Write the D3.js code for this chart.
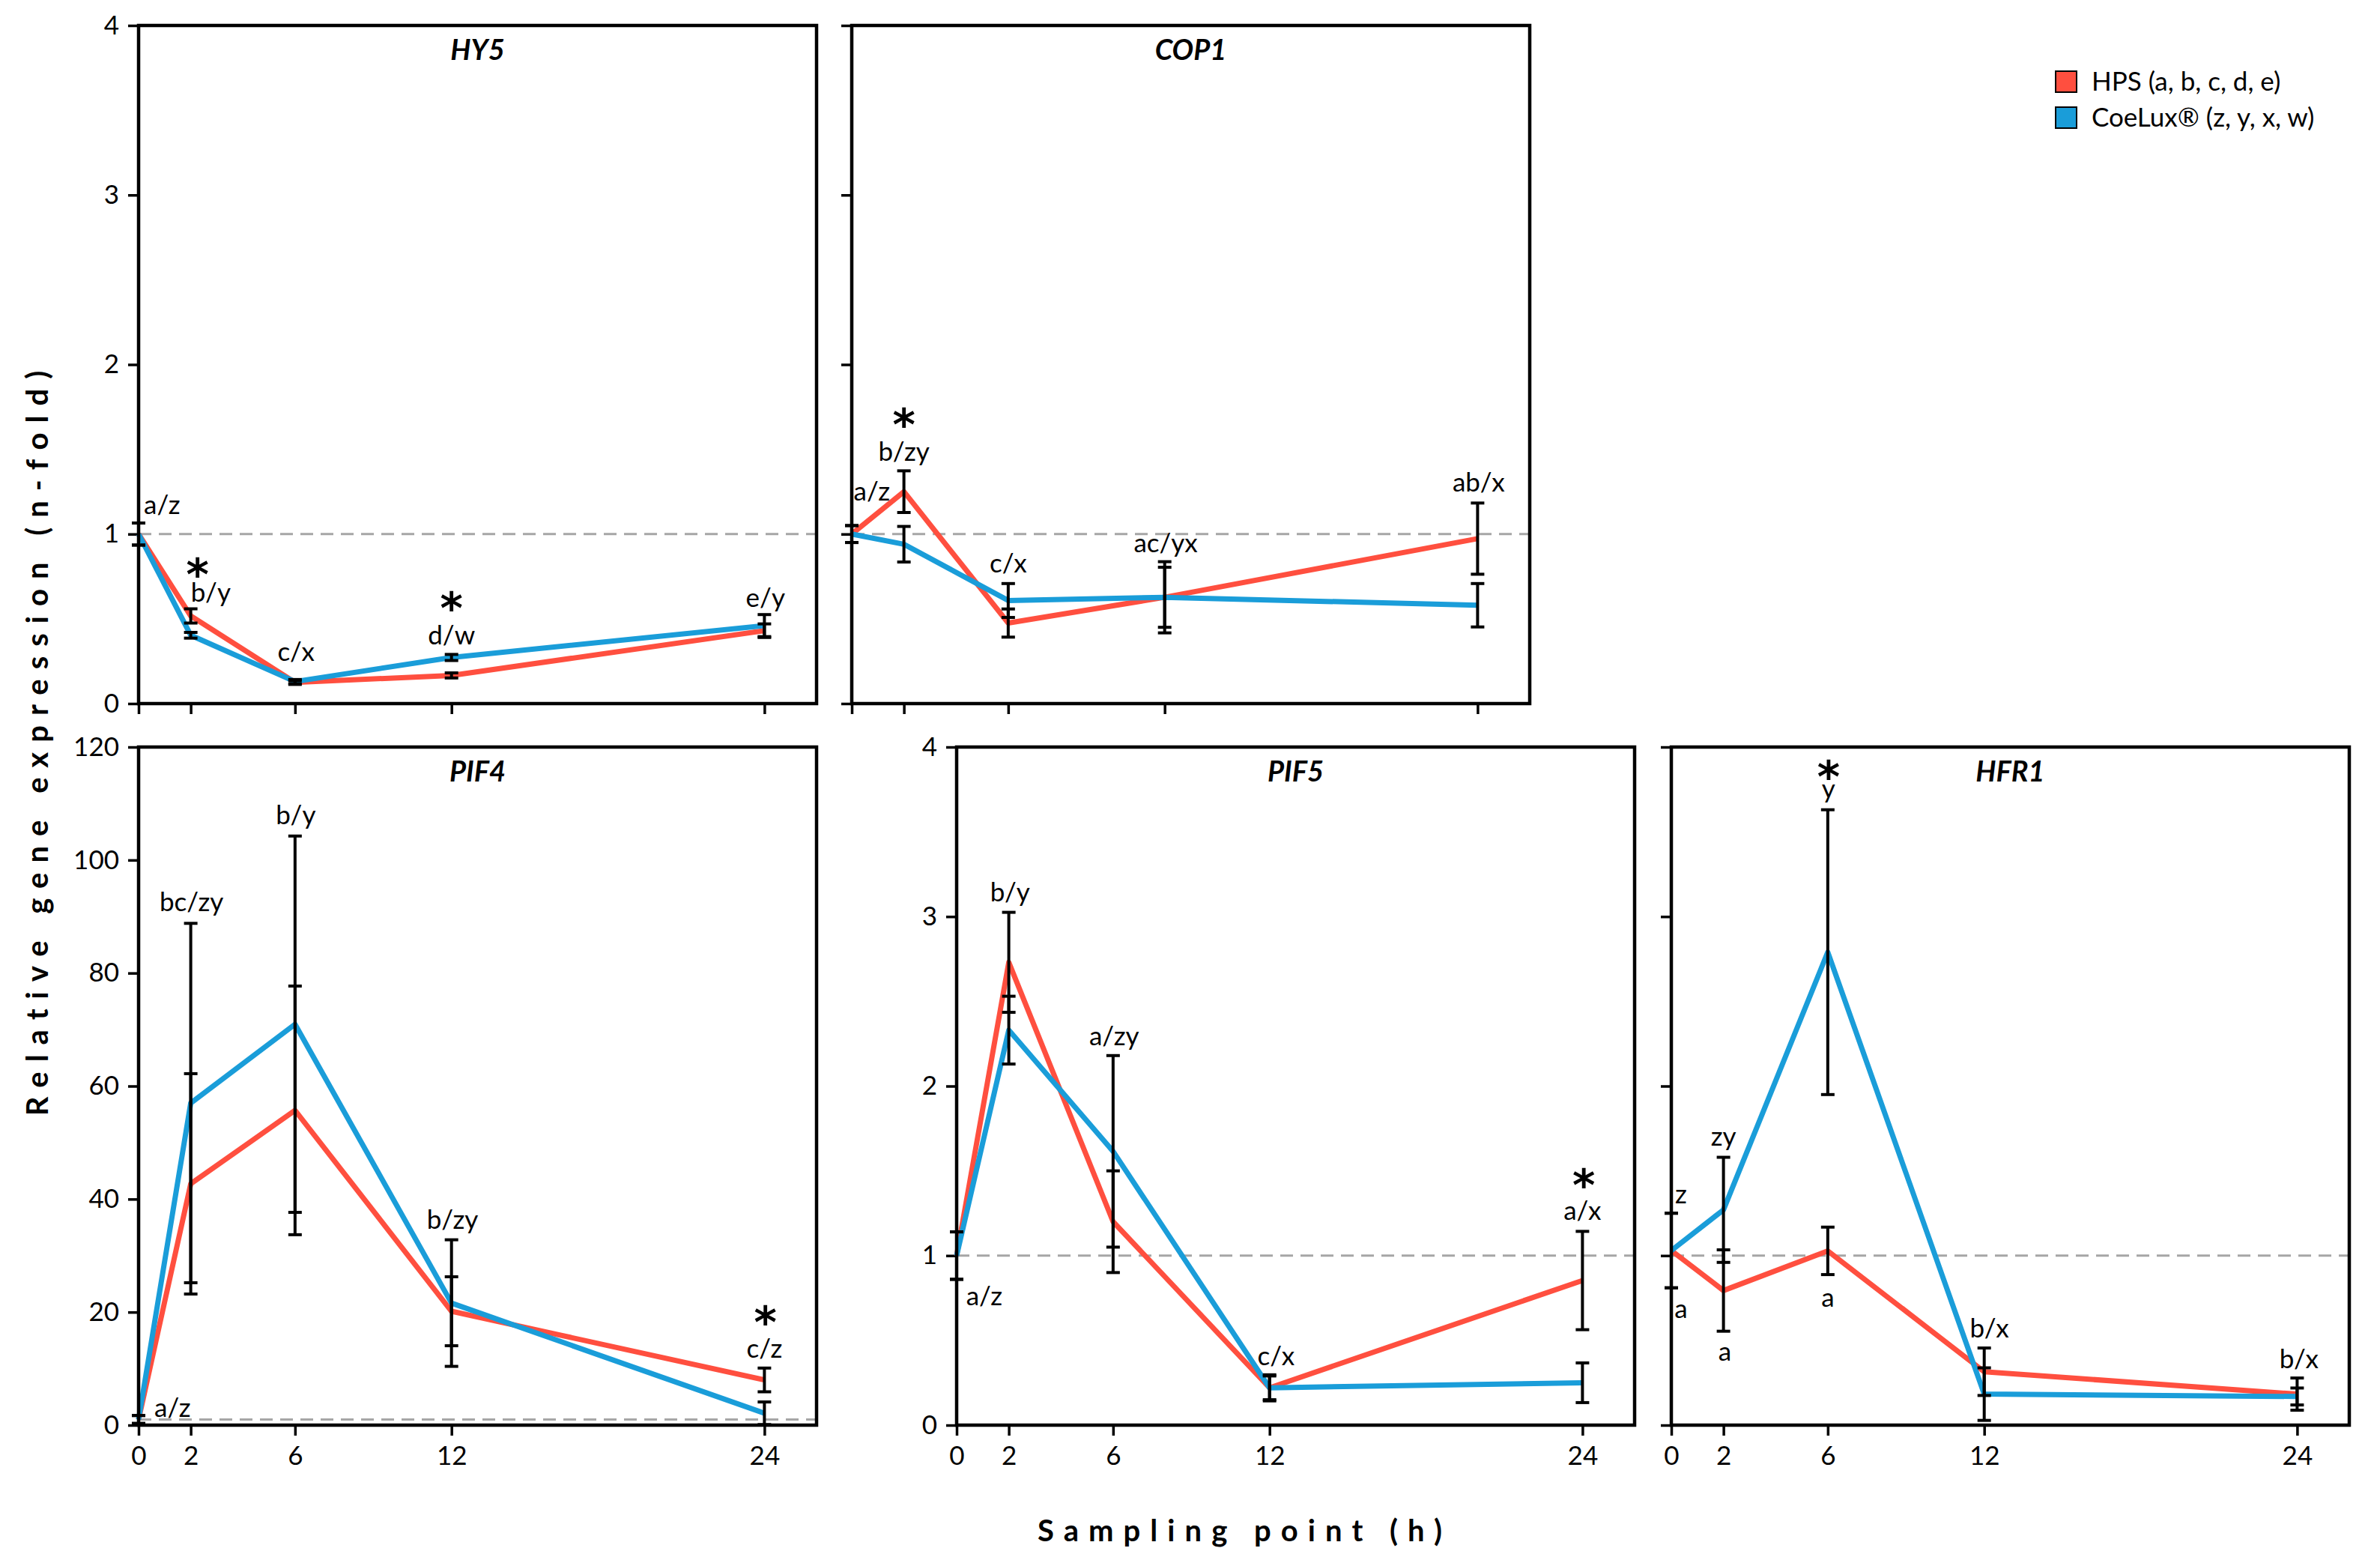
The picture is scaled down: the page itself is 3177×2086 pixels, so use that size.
<!DOCTYPE html>
<html><head><meta charset="utf-8">
<script src="https://cdn.jsdelivr.net/npm/d3@7"></script>
<style>
html,body{margin:0;padding:0;background:#fff;}
svg{display:block;}
text{font-family:Lato,"Open Sans",sans-serif;fill:#000;}
</style></head>
<body>
<svg id="chart" width="3177" height="2086"></svg>
<script>
// ---------- DATA ----------
const times = [0, 2, 6, 12, 24];
const genes = ["HY5", "COP1", "PIF4", "PIF5", "HFR1"];
const seriesNames = ["HPS (a, b, c, d, e)", "CoeLux\u00AE (z, y, x, w)"];
const yTicks4 = [0, 1, 2, 3, 4];
const yTicks120 = [0, 20, 40, 60, 80, 100, 120];

const hpsHY5 = [1, 0.517, 0.125, 0.166, 0.43];
const hpsHY5Err = [0.065, 0.042, 0.012, 0.015, 0.04];
const coeHY5 = [1, 0.403, 0.13, 0.272, 0.46];
const coeHY5Err = [0.065, 0.017, 0.012, 0.018, 0.065];

const hpsCOP1 = [1, 1.25, 0.475, 0.627, 0.973];
const hpsCOP1Err = [0.05, 0.123, 0.083, 0.21, 0.21];
const coeCOP1 = [1, 0.94, 0.608, 0.627, 0.58];
const coeCOP1Err = [0.05, 0.105, 0.1, 0.177, 0.128];

const hpsPIF4 = [1, 42.7, 55.7, 20.15, 8.0];
const hpsPIF4Err = [0.7, 19.5, 22, 6.1, 2.1];
const coePIF4 = [1, 57.0, 70.95, 21.6, 2.1];
const coePIF4Err = [0.7, 31.8, 33.3, 11.2, 2.0];

const hpsPIF5 = [1, 2.73, 1.2, 0.22, 0.853];
const hpsPIF5Err = [0.14, 0.295, 0.3, 0.07, 0.29];
const coePIF5 = [1, 2.33, 1.615, 0.22, 0.25];
const coePIF5Err = [0.14, 0.2, 0.565, 0.077, 0.117];

const hpsHFR1 = [1.03, 0.794, 1.028, 0.315, 0.183];
const hpsHFR1Err = [0.22, 0.24, 0.14, 0.14, 0.095];
const coeHFR1 = [1.03, 1.27, 2.79, 0.183, 0.169];
const coeHFR1Err = [0.22, 0.31, 0.84, 0.155, 0.05];

// annotations: [time, value, text]
const notesHY5 = [[0.9,1.12,"a/z"],[2.26,0.82,"*"],[2.77,0.60,"b/y"],[6.04,0.254,"c/x"],[12.0,0.62,"*"],[12.0,0.35,"d/w"],[24.04,0.57,"e/y"]];
const notesCOP1 = [[0.77,1.2,"a/z"],[2.0,1.70,"*"],[2.0,1.43,"b/zy"],[6.0,0.774,"c/x"],[12.04,0.895,"ac/yx"],[24.04,1.25,"ab/x"]];
const notesPIF4 = [[1.3,1.4,"a/z"],[2.03,91,"bc/zy"],[6.03,106.3,"b/y"],[12.04,34.7,"b/zy"],[24.04,19.9,"*"],[24.0,12,"c/z"]];
const notesPIF5 = [[1.06,0.705,"a/z"],[2.05,3.09,"b/y"],[6.04,2.24,"a/zy"],[12.25,0.352,"c/x"],[24.05,1.474,"*"],[24.0,1.212,"a/x"]];
const notesHFR1 = [[0.37,1.31,"z"],[0.37,0.63,"a"],[2.0,1.65,"zy"],[2.05,0.38,"a"],[6.03,3.88,"*"],[6.03,3.70,"y"],[6.0,0.70,"a"],[12.2,0.515,"b/x"],[24.07,0.338,"b/x"]];

// ---------- LAYOUT ----------
const colors = ["#FF4F3F", "#1A9DD9"];
const panels = [
  {gene:"HY5",  x:185,  y:34,  w:905, h:905, ymax:4,   ticks:yTicks4,   ylab:true,  xlab:false, hps:hpsHY5, hpsE:hpsHY5Err, coe:coeHY5, coeE:coeHY5Err, notes:notesHY5},
  {gene:"COP1", x:1137, y:34,  w:905, h:905, ymax:4,   ticks:yTicks4,   ylab:false, xlab:false, hps:hpsCOP1, hpsE:hpsCOP1Err, coe:coeCOP1, coeE:coeCOP1Err, notes:notesCOP1},
  {gene:"PIF4", x:185,  y:997, w:905, h:905, ymax:120, ticks:yTicks120, ylab:true,  xlab:true,  hps:hpsPIF4, hpsE:hpsPIF4Err, coe:coePIF4, coeE:coePIF4Err, notes:notesPIF4},
  {gene:"PIF5", x:1277, y:997, w:905, h:905, ymax:4,   ticks:yTicks4,   ylab:true,  xlab:true,  hps:hpsPIF5, hpsE:hpsPIF5Err, coe:coePIF5, coeE:coePIF5Err, notes:notesPIF5},
  {gene:"HFR1", x:2231, y:997, w:905, h:905, ymax:4,   ticks:yTicks4,   ylab:false, xlab:true,  hps:hpsHFR1, hpsE:hpsHFR1Err, coe:coeHFR1, coeE:coeHFR1Err, notes:notesHFR1}
];

const svg = d3.select("#chart");
const FS = 35;

panels.forEach(p => {
  const g = svg.append("g").attr("transform", `translate(${p.x},${p.y})`);
  const x = d3.scaleLinear().domain([0, 26]).range([0, p.w]);
  const y = d3.scaleLinear().domain([0, p.ymax]).range([p.h, 0]);

  // axes
  const yAxis = d3.axisLeft(y).tickValues(p.ticks).tickSize(14).tickPadding(12)
    .tickFormat(p.ylab ? d3.format("d") : () => "");
  const ya = g.append("g").call(yAxis);
  const xAxis = d3.axisBottom(x).tickValues(times).tickSize(14).tickPadding(14)
    .tickFormat(p.xlab ? d3.format("d") : () => "");
  const xa = g.append("g").attr("transform", `translate(0,${p.h})`).call(xAxis);
  [ya, xa].forEach(a => {
    a.select(".domain").remove();
    a.selectAll(".tick line").attr("stroke", "#000").attr("stroke-width", 3.5);
    a.selectAll(".tick text").attr("font-size", FS).attr("fill", "#000")
      .style("font-family", "Lato");
  });

  // reference dashed line at 1
  g.append("line").attr("x1", 0).attr("x2", p.w).attr("y1", y(1)).attr("y2", y(1))
    .attr("stroke", "#A6A6A6").attr("stroke-width", 3).attr("stroke-dasharray", "17,10");

  // series lines
  const line = d3.line().x((d, i) => x(times[i])).y(d => y(d));
  [p.hps, p.coe].forEach((vals, si) => {
    g.append("path").datum(vals).attr("d", line).attr("fill", "none")
      .attr("stroke", colors[si]).attr("stroke-width", 7).attr("stroke-linejoin", "round");
  });

  // error bars
  const cap = 9;
  [[p.hps, p.hpsE], [p.coe, p.coeE]].forEach(([vals, errs]) => {
    vals.forEach((v, i) => {
      const e = errs[i];
      if (!e) return;
      const cx = x(times[i]);
      const eg = g.append("g").attr("stroke", "#000").attr("stroke-width", 4);
      eg.append("line").attr("x1", cx).attr("x2", cx).attr("y1", y(v + e)).attr("y2", y(v - e));
      eg.append("line").attr("x1", cx - cap).attr("x2", cx + cap).attr("y1", y(v + e)).attr("y2", y(v + e));
      eg.append("line").attr("x1", cx - cap).attr("x2", cx + cap).attr("y1", y(v - e)).attr("y2", y(v - e));
    });
  });

  // frame
  g.append("rect").attr("x", 0).attr("y", 0).attr("width", p.w).attr("height", p.h)
    .attr("fill", "none").attr("stroke", "#000").attr("stroke-width", 4.5);

  // title
  g.append("text").attr("x", p.w / 2).attr("y", 46).attr("text-anchor", "middle")
    .attr("font-size", 38).attr("font-weight", 700).attr("font-style", "italic").text(p.gene);

  // annotations
  p.notes.forEach(([t, v, txt]) => {
    const isStar = txt === "*";
    const tx = g.append("text").attr("x", x(t)).attr("y", y(v)).attr("text-anchor", "middle").text(txt);
    if (isStar) tx.attr("font-size", 58).attr("font-weight", 700)
      .style("font-family", "'DejaVu Sans'").attr("dy", "0.57em");
    else tx.attr("font-size", FS);
  });
});

// legend
const leg = svg.append("g").attr("transform", "translate(2744,95)");
seriesNames.forEach((name, i) => {
  const row = leg.append("g").attr("transform", `translate(0,${i * 48})`);
  row.append("rect").attr("x", 0).attr("y", 0).attr("width", 28).attr("height", 28)
    .attr("fill", colors[i]).attr("stroke", "#000").attr("stroke-width", 2);
  row.append("text").attr("x", 48).attr("y", 26).attr("font-size", 35).text(name);
});

// axis titles with spacing fitted to target length
function spacedTitle(txt, cx, cy, target, rotate) {
  const t = svg.append("text").attr("font-size", 40).attr("font-weight", 700)
    .attr("text-anchor", "middle").attr("dy", "0.35em").text(txt);
  const w0 = t.node().getComputedTextLength();
  const n = txt.length;
  const ls = (target - w0) / (n - 1);
  t.attr("letter-spacing", ls);
  t.attr("x", ls / 2).attr("y", 0);
  t.attr("transform", `translate(${cx},${cy})` + (rotate ? " rotate(-90)" : ""));
}
spacedTitle("Relative gene expression (n-fold)", 50, 992, 995, true);
spacedTitle("Sampling point (h)", 1655, 2043, 540, false);
</script>
</body></html>
